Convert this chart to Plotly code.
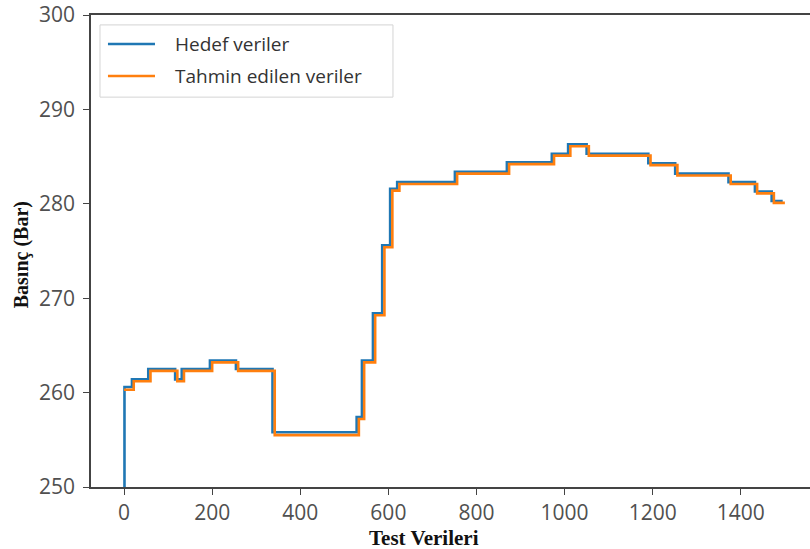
import plotly.graph_objects as go

# Step data: each level starts at the given test-sample index
target_x = [0, 1, 18, 55, 116, 131, 195, 254, 337, 528, 540, 565, 586, 604, 620,
            751, 869, 971, 1008, 1050, 1190, 1251, 1372, 1432, 1470, 1495]
target_y = [0, 260.6, 261.4, 262.5, 261.4, 262.5, 263.4, 262.5, 255.8, 257.4, 263.4,
            268.4, 275.6, 281.6, 282.3, 283.4, 284.4, 285.3, 286.3, 285.3, 284.3,
            283.2, 282.3, 281.3, 280.3, 280.3]

pred_x = [0, 22, 60, 121, 136, 200, 259, 342, 533, 545, 570, 591, 609, 625,
          756, 874, 976, 1013, 1055, 1195, 1256, 1377, 1437, 1475, 1500]
pred_y = [260.3, 261.2, 262.3, 261.2, 262.3, 263.2, 262.3, 255.5, 257.2, 263.2,
          268.2, 275.4, 281.4, 282.1, 283.2, 284.2, 285.1, 286.1, 285.1, 284.1,
          283.0, 282.1, 281.1, 280.1, 280.1]

series_names = ["Hedef veriler", "Tahmin edilen veriler"]
series_colors = ["#1f77b4", "#ff7f0e"]

x_ticks = [0, 200, 400, 600, 800, 1000, 1200, 1400]
y_ticks = [250, 260, 270, 280, 290, 300]

fig = go.Figure()
for xs, ys, name, color in zip([target_x, pred_x], [target_y, pred_y],
                               series_names, series_colors):
    fig.add_trace(go.Scatter(
        x=xs, y=ys, mode="lines", line_shape="hv",
        line=dict(color=color, width=2.6), name=name, showlegend=False))

# Legend panel drawn in paper coordinates (upper-left corner of the axes)
shapes = [dict(type="rect", xref="paper", yref="paper",
               x0=0.0125, x1=0.42, y0=0.826, y1=0.979,
               line=dict(color="#d4d4d4", width=1), fillcolor="white",
               layer="above")]
annotations = []
for i, (name, color) in enumerate(zip(series_names, series_colors)):
    yy = 0.9386 - i * 0.0678
    shapes.append(dict(type="line", xref="paper", yref="paper",
                       x0=0.0236, x1=0.089, y0=yy, y1=yy,
                       line=dict(color=color, width=2.6), layer="above"))
    annotations.append(dict(text=name, xref="paper", yref="paper",
                            x=0.114, y=yy, xanchor="left", yanchor="middle",
                            showarrow=False,
                            font=dict(family="Open Sans", size=19,
                                      color="#333333")))

annotations += [
    dict(text="<b>Test Verileri</b>", xref="paper", yref="paper",
         x=0.463, y=-0.108, xanchor="center", yanchor="middle",
         showarrow=False,
         font=dict(family="Liberation Serif", size=21, color="#111")),
    dict(text="<b>Basınç (Bar)</b>", xref="paper", yref="paper",
         x=-0.097, y=0.4915, xanchor="center", yanchor="middle",
         textangle=-90, showarrow=False,
         font=dict(family="Liberation Serif", size=20, color="#111")),
]

tick_font = dict(family="Open Sans", size=21, color="#505050")
fig.update_layout(
    width=810, height=549,
    margin=dict(l=91, r=0, t=15, b=62),
    paper_bgcolor="white", plot_bgcolor="white",
    showlegend=False,
    xaxis=dict(
        range=[-75, 1557], tickvals=x_ticks, ticks="outside", ticklen=6,
        tickwidth=1.2, tickcolor="#444", showgrid=False, zeroline=False,
        showline=True, linecolor="#444", linewidth=1.5, mirror=True,
        tickfont=tick_font,
    ),
    yaxis=dict(
        range=[250, 300], tickvals=y_ticks, ticks="outside", ticklen=6,
        tickwidth=1.2, tickcolor="#444", showgrid=False, zeroline=False,
        showline=True, linecolor="#444", linewidth=1.5,
        tickfont=tick_font, ticklabelstandoff=4,
    ),
    shapes=shapes,
    annotations=annotations,
)

fig.write_html("out.html")
